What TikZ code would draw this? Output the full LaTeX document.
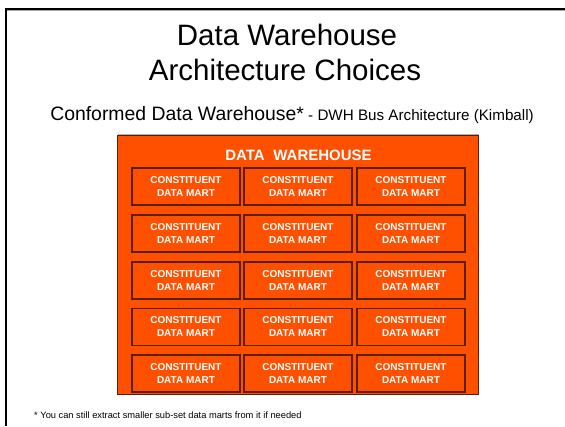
\documentclass[tikz,border=0pt]{standalone}
\usepackage{fontspec}
\setmainfont{Liberation Sans}
\definecolor{dworange}{HTML}{FF5000}
\definecolor{dwedge}{HTML}{5A1E00}
\begin{document}
\begin{tikzpicture}[x=1pt,y=-1pt,
  mart/.style={draw=dwedge,line width=1.1pt,fill=dworange,minimum width=108pt,minimum height=37pt,
    inner sep=0pt,text=white,font=\fontsize{10}{13}\selectfont\bfseries,align=center},
  whbox/.style={draw=dwedge,line width=1pt,fill=dworange},
  titletext/.style={font=\fontsize{29.5}{35}\selectfont,anchor=base},
  frameline/.style={line width=2pt,black}]
\useasboundingbox (0,0) rectangle (565,426);
% slide frame
\draw[gray!70,line width=0.8pt] (7,10.6) -- (565,10.6);
\draw[frameline] (6,426) -- (6,8.7) -- (565,8.7);
% title
\node[titletext] (title) at (287,45) {Data Warehouse};
\node[titletext] (title2) at (285,80) {Architecture Choices};
\node[anchor=base] (sub) at (292,120)
  {\fontsize{19.4}{22}\selectfont Conformed Data Warehouse*\fontsize{15.2}{18}\selectfont{} - DWH Bus Architecture (Kimball)};
% warehouse container
\draw[gray!60,line width=0.8pt] (118,134.6) -- (479,134.6);
\filldraw[whbox] (117.5,135.5) rectangle (478.5,394.5);
\node[text=white,font=\fontsize{15}{18}\selectfont\bfseries] (dw) at (298.5,155) {DATA\hspace{0.3em} WAREHOUSE};
% constituent data marts
\foreach \r/\y in {1/186.5,2/233.5,3/280.5,4/326.8,5/373.5}{
  \foreach \c/\x in {1/186,2/298,3/411}{
    \node[mart] (m\r\c) at (\x,\y) {CONSTITUENT\\DATA MART};
  }
}
% footnote
\node[anchor=base west,font=\fontsize{9.3}{11}\selectfont,inner sep=0pt] (note) at (34,418)
  {* You can still extract smaller sub-set data marts from it if needed};
\end{tikzpicture}
\end{document}
